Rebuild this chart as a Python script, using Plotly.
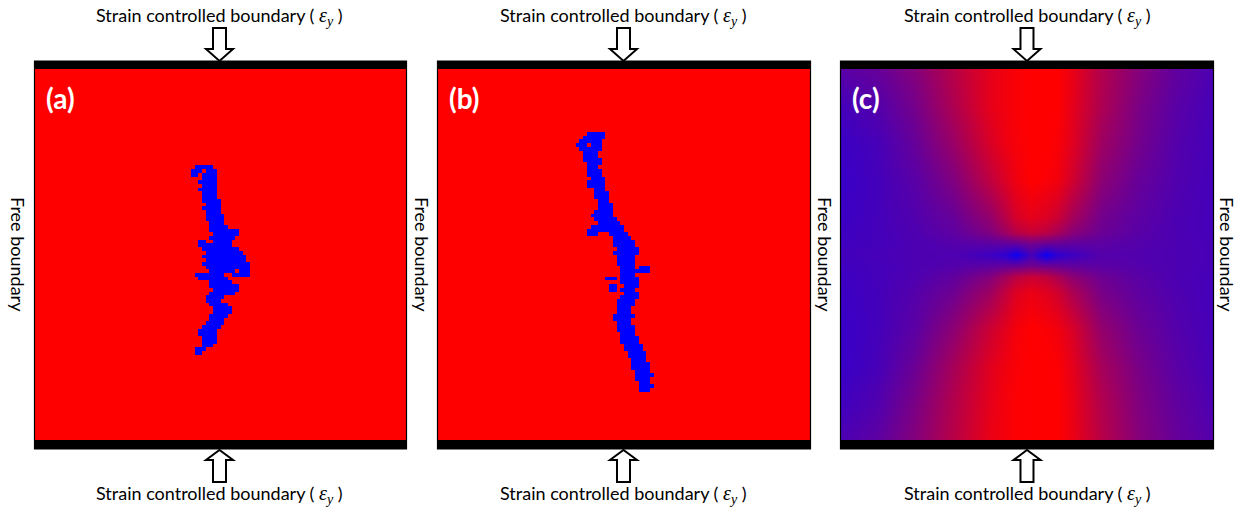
import plotly.graph_objects as go

W, H = 1238, 510
N = 100  # simulation grid cells per side

# ---- crack cells (row, first col, last col) ----
crack_a = [
    (26, 43, 47), (27, 42, 44), (27, 46, 48), (28, 42, 43), (28, 45, 48),
    (29, 45, 48), (30, 44, 48), (31, 45, 48), (32, 44, 48), (33, 45, 48),
    (34, 45, 48), (35, 45, 49), (36, 46, 49), (37, 45, 49), (38, 46, 49),
    (39, 46, 50), (40, 46, 50), (41, 47, 50), (42, 47, 51), (43, 47, 52),
    (43, 53, 54), (44, 48, 54), (45, 47, 53), (46, 44, 45), (46, 48, 52),
    (47, 44, 46), (47, 47, 52), (48, 45, 54), (49, 46, 55), (50, 45, 56),
    (51, 46, 56), (52, 45, 57), (53, 46, 57), (54, 47, 53), (54, 55, 57),
    (55, 43, 50), (55, 53, 57), (56, 44, 45), (56, 46, 51), (57, 47, 52),
    (58, 47, 54), (59, 48, 54), (60, 47, 53), (61, 46, 50), (62, 46, 49),
    (63, 47, 51), (64, 48, 52), (65, 48, 52), (66, 47, 51), (67, 47, 50),
    (68, 46, 50), (69, 45, 49), (70, 44, 48), (71, 44, 48), (72, 45, 48),
    (73, 45, 48), (74, 45, 47), (75, 43, 45), (76, 43, 44),
]

crack_b = [
    (17, 40, 44), (18, 39, 44), (19, 38, 43), (20, 37, 39), (20, 41, 43),
    (21, 38, 43), (22, 39, 42), (23, 39, 42), (24, 39, 43), (25, 40, 43),
    (26, 40, 42), (27, 40, 43), (28, 40, 43), (29, 41, 44), (30, 40, 44),
    (31, 40, 41), (31, 42, 44), (32, 42, 44), (33, 42, 45), (34, 42, 45),
    (35, 43, 45), (36, 43, 46), (37, 43, 46), (38, 42, 46), (39, 41, 46),
    (40, 42, 47), (41, 43, 48), (42, 41, 49), (43, 40, 44), (43, 45, 49),
    (44, 40, 42), (44, 46, 50), (45, 47, 51), (46, 47, 52), (47, 47, 52),
    (48, 48, 53), (49, 47, 53), (50, 48, 52), (51, 48, 52), (52, 48, 52),
    (53, 49, 52), (53, 54, 56), (54, 49, 53), (54, 54, 56), (55, 49, 52),
    (56, 45, 47), (56, 49, 53), (57, 49, 53), (58, 46, 47), (58, 50, 53),
    (59, 46, 47), (59, 49, 52), (60, 50, 53), (61, 49, 53), (62, 48, 52),
    (63, 48, 52), (64, 48, 51), (65, 48, 51), (66, 47, 50), (66, 51, 52),
    (67, 47, 51), (68, 48, 51), (69, 48, 52), (70, 48, 52), (71, 49, 52),
    (72, 49, 53), (73, 49, 53), (74, 50, 54), (75, 50, 54), (76, 51, 55),
    (77, 51, 55), (78, 52, 55), (79, 52, 56), (80, 52, 56), (81, 53, 56),
    (82, 53, 57), (83, 53, 56), (84, 54, 56), (85, 54, 57), (86, 54, 56),
]

# ---- field of panel (c): 0 = blue, 1 = red, sampled on a coarse grid ----
field_x = [0, 10, 20, 30, 40, 44, 47, 51, 55, 58, 62, 70, 80, 90, 100]
field_y = [0, 10, 20, 30, 40, 44, 47, 50, 53, 56, 60, 70, 80, 90, 100]
field_z = [
    [0.35, 0.40, 0.52, 0.72, 0.90, 0.95, 0.98, 1.00, 1.00, 1.00, 0.92, 0.70, 0.52, 0.38, 0.30],
    [0.27, 0.33, 0.46, 0.68, 0.90, 0.95, 0.98, 1.00, 1.00, 1.00, 0.90, 0.68, 0.48, 0.35, 0.28],
    [0.23, 0.28, 0.40, 0.60, 0.85, 0.93, 0.97, 1.00, 1.00, 0.98, 0.88, 0.62, 0.45, 0.33, 0.27],
    [0.22, 0.27, 0.35, 0.50, 0.75, 0.86, 0.94, 1.00, 0.98, 0.95, 0.82, 0.55, 0.40, 0.32, 0.27],
    [0.23, 0.27, 0.32, 0.40, 0.58, 0.72, 0.84, 0.90, 0.86, 0.80, 0.65, 0.45, 0.36, 0.30, 0.27],
    [0.24, 0.27, 0.31, 0.37, 0.50, 0.62, 0.72, 0.78, 0.74, 0.66, 0.54, 0.42, 0.35, 0.30, 0.27],
    [0.25, 0.27, 0.30, 0.33, 0.36, 0.38, 0.40, 0.45, 0.42, 0.40, 0.38, 0.36, 0.33, 0.30, 0.28],
    [0.26, 0.28, 0.30, 0.31, 0.24, 0.18, 0.05, 0.28, 0.05, 0.18, 0.24, 0.33, 0.32, 0.30, 0.28],
    [0.25, 0.27, 0.30, 0.33, 0.37, 0.40, 0.42, 0.46, 0.44, 0.42, 0.39, 0.36, 0.33, 0.30, 0.28],
    [0.24, 0.27, 0.31, 0.38, 0.52, 0.64, 0.74, 0.80, 0.76, 0.68, 0.56, 0.43, 0.35, 0.30, 0.27],
    [0.23, 0.27, 0.33, 0.43, 0.62, 0.76, 0.87, 0.92, 0.88, 0.82, 0.68, 0.47, 0.37, 0.31, 0.27],
    [0.22, 0.27, 0.36, 0.55, 0.80, 0.89, 0.96, 1.00, 0.98, 0.95, 0.85, 0.58, 0.42, 0.33, 0.27],
    [0.22, 0.28, 0.42, 0.65, 0.88, 0.94, 0.98, 1.00, 1.00, 0.99, 0.90, 0.65, 0.47, 0.35, 0.28],
    [0.25, 0.32, 0.48, 0.70, 0.90, 0.96, 0.99, 1.00, 1.00, 1.00, 0.92, 0.70, 0.50, 0.38, 0.30],
    [0.30, 0.37, 0.52, 0.72, 0.92, 0.96, 0.99, 1.00, 1.00, 1.00, 0.93, 0.72, 0.52, 0.40, 0.33],
]

panel_labels = ["(a)", "(b)", "(c)"]
boundary_text = ("Strain controlled boundary ( "
                 "<span style='font-family:Liberation Serif;font-size:20px'>"
                 "<i>ε<sub>y</sub></i></span> )")
side_text = "Free boundary"

# ---- layout geometry (pixels) ----
panel_left = [35, 438, 841]
panel_right = [406, 810, 1213]
panel_top, panel_bottom = 69, 440
arrow_cx = [219.5, 623.5, 1027]
side_x = [18, 422, 825, 1227]


def px(x):
    return x / W


def py(y):
    return 1 - y / H


def grid(spans):
    z = [[0] * N for _ in range(N)]
    for r, c0, c1 in spans:
        for c in range(c0, c1 + 1):
            z[r][c] = 1
    return z


centers = [i + 0.5 for i in range(N)]
fig = go.Figure()
two_col = [[0, "rgb(255,0,0)"], [1, "rgb(0,0,255)"]]
for i, spans in enumerate([crack_a, crack_b]):
    fig.add_trace(go.Heatmap(
        z=grid(spans), x=centers, y=centers, zmin=0, zmax=1,
        colorscale=two_col, showscale=False, hoverinfo="skip",
        xaxis="x" if i == 0 else "x2", yaxis="y" if i == 0 else "y2"))

fig.add_trace(go.Heatmap(
    z=field_z, x=field_x, y=field_y, zmin=0, zmax=1, zsmooth="best",
    colorscale=[[0, "rgb(0,0,255)"], [1, "rgb(255,0,0)"]],
    showscale=False, hoverinfo="skip", xaxis="x3", yaxis="y3"))

ydom = [py(panel_bottom), py(panel_top)]
for i in range(3):
    sfx = "" if i == 0 else str(i + 1)
    fig.layout["xaxis" + sfx] = dict(domain=[px(panel_left[i]), px(panel_right[i])],
                                     range=[0, 100], visible=False,
                                     anchor="y" + sfx, fixedrange=True)
    fig.layout["yaxis" + sfx] = dict(domain=ydom, range=[100, 0], visible=False,
                                     anchor="x" + sfx, fixedrange=True)

shapes = []
annotations = []
for i in range(3):
    L, R = panel_left[i] - 0.5, panel_right[i] + 0.5
    # thin outline
    shapes.append(dict(type="rect", xref="paper", yref="paper",
                       x0=px(L), x1=px(R), y0=py(449), y1=py(61),
                       line=dict(color="black", width=1.2), fillcolor="rgba(0,0,0,0)"))
    # thick top and bottom bars
    shapes.append(dict(type="rect", xref="paper", yref="paper",
                       x0=px(L), x1=px(R), y0=py(69), y1=py(61),
                       line=dict(width=0), fillcolor="black"))
    shapes.append(dict(type="rect", xref="paper", yref="paper",
                       x0=px(L), x1=px(R), y0=py(449), y1=py(440),
                       line=dict(width=0), fillcolor="black"))
    cx = arrow_cx[i]
    top_pts = [(cx - 6.5, 28), (cx + 6.5, 28), (cx + 6.5, 49), (cx + 13.5, 49),
               (cx, 61), (cx - 13.5, 49), (cx - 6.5, 49)]
    bot_pts = [(cx - 6.5, 482), (cx + 6.5, 482), (cx + 6.5, 460), (cx + 13.5, 460),
               (cx, 450), (cx - 13.5, 460), (cx - 6.5, 460)]
    for pts in (top_pts, bot_pts):
        path = "M " + " L ".join(f"{px(x):.5f},{py(y):.5f}" for x, y in pts) + " Z"
        shapes.append(dict(type="path", xref="paper", yref="paper", path=path,
                           fillcolor="white", line=dict(color="black", width=2)))
    for yy in (17, 494):
        annotations.append(dict(xref="paper", yref="paper", x=px(cx), y=py(yy),
                                text=boundary_text, showarrow=False,
                                xanchor="center", yanchor="middle",
                                font=dict(family="Lato", size=18, color="black")))
    annotations.append(dict(xref="paper", yref="paper", x=px(panel_left[i] + 9),
                            y=py(98), text="<b>" + panel_labels[i] + "</b>",
                            showarrow=False, xanchor="left", yanchor="middle",
                            font=dict(family="Lato", size=28, color="white")))

for sx in side_x:
    annotations.append(dict(xref="paper", yref="paper", x=px(sx), y=py(254),
                            text=side_text, showarrow=False, textangle=90,
                            xanchor="center", yanchor="middle",
                            font=dict(family="Lato", size=18, color="black")))

fig.update_layout(width=W, height=H, margin=dict(l=0, r=0, t=0, b=0),
                  paper_bgcolor="white", plot_bgcolor="white",
                  shapes=shapes, annotations=annotations, showlegend=False)

fig.write_html("out.html", config={"displayModeBar": False},
               post_script="document.body.style.margin='0';"
                           "document.body.style.overflow='hidden';")
